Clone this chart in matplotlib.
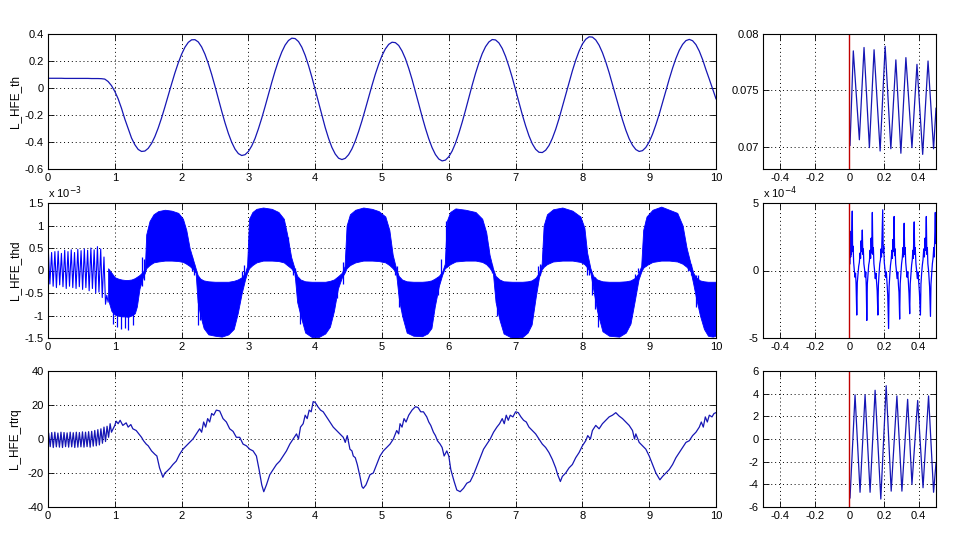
import matplotlib
matplotlib.use('Agg')
import matplotlib.pyplot as plt
import numpy as np
from matplotlib.ticker import FuncFormatter

plt.rcParams['font.family'] = ['Liberation Sans', 'DejaVu Sans']
plt.rcParams['axes.unicode_minus'] = False

# ---------------- data ----------------
labels = ["L_HFE_th", "L_HFE_thd", "L_HFE_rtrq"]

# L_HFE_th, sampled every 0.05
th_t = np.round(np.arange(0, 10.001, 0.05), 2)
th_v = [0.072, 0.072, 0.072, 0.072, 0.072, 0.071, 0.071, 0.071, 0.071, 0.071, 0.071,
        0.071, 0.071, 0.070, 0.070, 0.070, 0.069,
        0.066, 0.048, 0.018, -0.025, -0.08, -0.15, -0.23, -0.30, -0.37, -0.42, -0.455, -0.47,
        -0.467, -0.447, -0.411, -0.360, -0.296, -0.222, -0.140, -0.055, 0.030, 0.112, 0.186,
        0.250, 0.302, 0.338, 0.357,
        0.358, 0.341, 0.304, 0.250, 0.181, 0.101, 0.013, -0.079, -0.171, -0.258, -0.336,
        -0.402, -0.453, -0.486, -0.500,
        -0.494, -0.470, -0.429, -0.373, -0.302, -0.223, -0.137, -0.047, 0.042, 0.126, 0.202,
        0.267, 0.318, 0.352, 0.369,
        0.366, 0.344, 0.302, 0.242, 0.167, 0.081, -0.013, -0.109, -0.204, -0.293, -0.373,
        -0.440, -0.489, -0.520, -0.530,
        -0.521, -0.494, -0.451, -0.393, -0.322, -0.243, -0.157, -0.068, 0.019, 0.102, 0.176,
        0.240, 0.289, 0.323, 0.339,
        0.336, 0.315, 0.274, 0.218, 0.146, 0.064, -0.026, -0.118, -0.211, -0.298, -0.376,
        -0.442, -0.493, -0.526, -0.540,
        -0.534, -0.509, -0.467, -0.409, -0.336, -0.254, -0.165, -0.072, 0.021, 0.108, 0.186,
        0.254, 0.306, 0.341, 0.359,
        0.356, 0.334, 0.293, 0.234, 0.160, 0.077, -0.014, -0.106, -0.197, -0.280, -0.354,
        -0.413, -0.454, -0.476,
        -0.478, -0.461, -0.426, -0.373, -0.306, -0.227, -0.140, -0.050, 0.040, 0.127, 0.206,
        0.273, 0.326, 0.361, 0.379,
        0.377, 0.356, 0.317, 0.262, 0.193, 0.114, 0.026, -0.063, -0.152, -0.236, -0.312,
        -0.376, -0.424, -0.456, -0.470,
        -0.464, -0.440, -0.399, -0.342, -0.272, -0.194, -0.108, -0.020, 0.066, 0.147, 0.219,
        0.279, 0.323, 0.351, 0.360,
        0.350, 0.321, 0.273, 0.210, 0.135, 0.065, -0.008, -0.080]

# L_HFE_thd (x1e-3): start-up oscillation
thd_osc_t = [0.005, 0.028, 0.054, 0.077, 0.103, 0.126, 0.152, 0.175, 0.201, 0.224,
             0.250, 0.273, 0.299, 0.322, 0.348, 0.371, 0.397, 0.420, 0.446, 0.469,
             0.495, 0.518, 0.544, 0.567, 0.593, 0.616, 0.642, 0.665, 0.691, 0.714,
             0.740, 0.763, 0.789, 0.812, 0.838, 0.861, 0.880, 0.900]
thd_osc_v = [0.45, -0.30, 0.40, -0.35, 0.42, -0.38, 0.43, -0.32, 0.38, -0.36,
             0.45, -0.40, 0.42, -0.35, 0.46, -0.38, 0.40, -0.40, 0.47, -0.36,
             0.44, -0.42, 0.48, -0.38, 0.45, -0.45, 0.50, -0.40, 0.46, -0.50,
             0.53, -0.48, 0.48, -0.60, 0.30, -0.75, -0.55, -0.70]
# L_HFE_thd (x1e-3): envelope of the dense band (time, lower, upper)
thd_env_t = [0.90, 0.95, 1.00, 1.05, 1.10, 1.15, 1.20, 1.25, 1.30, 1.33, 1.37, 1.42, 1.45,
             1.47, 1.52, 1.58, 1.65, 1.75, 1.85, 1.95, 2.02, 2.07, 2.12, 2.17, 2.21,
             2.24, 2.28, 2.33, 2.40, 2.50, 2.60, 2.70, 2.78, 2.84, 2.90, 2.95, 2.98,
             3.01, 3.06, 3.12, 3.22, 3.35, 3.45, 3.53, 3.58, 3.64, 3.69,
             3.73, 3.78, 3.85, 3.95, 4.05, 4.15, 4.22, 4.28, 4.34, 4.40, 4.44,
             4.47, 4.52, 4.60, 4.72, 4.85, 4.95, 5.05, 5.11, 5.16, 5.21,
             5.25, 5.30, 5.37, 5.47, 5.60, 5.68, 5.74, 5.79, 5.85, 5.90, 5.94,
             5.97, 6.02, 6.10, 6.25, 6.40, 6.50, 6.56, 6.61, 6.66,
             6.70, 6.76, 6.82, 6.95, 7.10, 7.18, 7.24, 7.30, 7.35, 7.39,
             7.42, 7.47, 7.56, 7.70, 7.85, 7.97, 8.03, 8.07, 8.12,
             8.16, 8.22, 8.30, 8.40, 8.55, 8.65, 8.72, 8.78, 8.84, 8.88,
             8.91, 8.96, 9.05, 9.18, 9.30, 9.42, 9.50, 9.56, 9.62,
             9.66, 9.70, 9.76, 9.82, 9.88, 9.95, 10.0]
thd_env_lo = [-0.65, -0.90, -0.98, -1.00, -1.02, -1.02, -1.03, -1.00, -0.95, -0.80, -0.40, -0.15, -0.05,
              0.05, 0.12, 0.18, 0.20, 0.22, 0.22, 0.21, 0.19, 0.15, 0.10, 0.03, -0.05,
              -0.70, -1.00, -1.28, -1.42, -1.45, -1.47, -1.42, -1.30, -0.95, -0.50, -0.20, -0.05,
              0.05, 0.12, 0.18, 0.22, 0.22, 0.21, 0.18, 0.12, 0.05, -0.05,
              -0.70, -1.00, -1.38, -1.48, -1.48, -1.40, -1.25, -0.90, -0.40, -0.15, -0.05,
              0.05, 0.12, 0.18, 0.22, 0.22, 0.21, 0.18, 0.12, 0.05, -0.05,
              -0.60, -1.00, -1.38, -1.45, -1.46, -1.40, -1.28, -0.80, -0.35, -0.10, 0.05,
              0.08, 0.14, 0.20, 0.22, 0.22, 0.19, 0.14, 0.06, -0.05,
              -0.70, -1.10, -1.40, -1.50, -1.48, -1.38, -1.20, -0.60, -0.15, 0.02,
              0.08, 0.14, 0.20, 0.22, 0.22, 0.19, 0.14, 0.07, -0.05,
              -0.40, -0.90, -1.35, -1.45, -1.47, -1.38, -1.18, -0.70, -0.20, -0.03,
              0.06, 0.12, 0.19, 0.22, 0.22, 0.20, 0.15, 0.08, -0.02,
              -0.30, -0.60, -1.00, -1.30, -1.45, -1.47, -1.45]
thd_env_hi = [0.05, -0.05, -0.15, -0.18, -0.20, -0.21, -0.21, -0.20, -0.17, -0.14, -0.10, -0.03, 0.05,
              0.80, 1.10, 1.25, 1.32, 1.35, 1.33, 1.28, 1.15, 0.90, 0.50, 0.25, 0.05,
              -0.10, -0.18, -0.22, -0.24, -0.25, -0.25, -0.25, -0.23, -0.20, -0.15, -0.05, 0.10,
              1.15, 1.30, 1.37, 1.40, 1.37, 1.30, 1.15, 0.80, 0.30, 0.05,
              -0.12, -0.20, -0.24, -0.25, -0.25, -0.25, -0.23, -0.20, -0.13, -0.05, 0.10,
              1.00, 1.25, 1.35, 1.40, 1.37, 1.32, 1.20, 0.90, 0.35, 0.05,
              -0.12, -0.20, -0.24, -0.25, -0.25, -0.24, -0.22, -0.18, -0.12, -0.03, 0.15,
              1.10, 1.30, 1.38, 1.35, 1.30, 1.15, 0.85, 0.35, 0.05,
              -0.12, -0.20, -0.24, -0.25, -0.25, -0.24, -0.22, -0.16, -0.05, 0.15,
              1.00, 1.25, 1.36, 1.40, 1.33, 1.20, 0.95, 0.40, 0.05,
              -0.12, -0.20, -0.24, -0.25, -0.25, -0.24, -0.22, -0.17, -0.06, 0.10,
              0.90, 1.20, 1.35, 1.42, 1.35, 1.28, 1.00, 0.50, 0.15,
              -0.05, -0.15, -0.22, -0.24, -0.25, -0.25, -0.25]
# L_HFE_thd (x1e-3): isolated spikes poking out of the band (time, low, high)
thd_spk_t = [0.97, 1.03, 1.10, 1.15, 1.20, 1.27, 1.40, 1.43, 2.15, 2.19, 2.24, 2.27,
             2.90, 2.93, 3.59, 3.67, 3.70, 3.77, 3.80, 4.33, 4.42, 5.05, 5.19, 5.22,
             5.25, 5.28, 5.40, 5.84, 5.89, 5.96, 6.59, 6.64, 6.72, 6.76, 6.85, 7.28,
             7.34, 7.37, 8.01, 8.07, 8.10, 8.15, 8.19, 8.23, 8.78, 8.83, 8.95, 9.58,
             9.62, 9.70, 9.73]
thd_spk_lo = [-1.18, -1.25, -1.29, -1.27, -1.33, -1.22, -0.35, -0.20, 0.00, -0.10, -1.20, -1.10,
              -0.30, -0.10, 0.30, -0.10, -0.15, -1.18, -1.10, -0.60, -0.30, 0.30, -0.10, -0.10,
              -0.80, -0.85, -1.30, -0.55, -0.10, 0.15, 0.20, -0.05, -1.00, -1.00, -1.25, -0.60,
              -0.15, -0.10, 0.20, -0.10, -0.10, -0.55, -0.85, -1.25, -0.20, -0.05, 0.10, 0.00,
              -0.10, -0.80, -0.60]
thd_spk_hi = [-0.80, -0.90, -0.90, -0.90, -0.90, -0.90, 0.30, 0.25, 0.30, 0.15, -0.20, -0.20,
              0.00, 0.12, 0.75, 0.10, 0.05, -0.30, -0.30, -0.20, 0.20, 0.85, 0.10, 0.10,
              -0.20, -0.20, -0.30, -0.20, 0.25, 1.10, 0.55, 0.12, -0.20, -0.20, -0.30, -0.20,
              0.10, 0.15, 0.85, 0.10, 0.10, -0.10, -0.15, -0.20, -0.07, 0.05, 1.12, 0.30,
              0.15, -0.10, -0.10]

# L_HFE_rtrq
rtrq_t = [0.000, 0.010, 0.033, 0.056, 0.079, 0.102, 0.125, 0.148, 0.171, 0.194, 0.217,
          0.240, 0.263, 0.286, 0.309, 0.332, 0.355, 0.378, 0.401, 0.424, 0.447,
          0.470, 0.493, 0.516, 0.539, 0.562, 0.585, 0.608, 0.631, 0.654, 0.677,
          0.700, 0.723, 0.746, 0.769, 0.792, 0.815, 0.838, 0.861, 0.884, 0.907, 0.930, 0.950,
          1.00, 1.02, 1.05, 1.08, 1.12, 1.17, 1.20, 1.24, 1.27, 1.32, 1.37, 1.40, 1.43, 1.47,
          1.50, 1.55, 1.60, 1.63, 1.67, 1.72, 1.75, 1.78, 1.83, 1.87, 1.92, 1.97, 2.02, 2.07,
          2.12, 2.17, 2.22, 2.27, 2.30, 2.33, 2.36, 2.39, 2.42, 2.45, 2.48, 2.52, 2.57, 2.62,
          2.67, 2.72, 2.77, 2.82, 2.87, 2.92, 2.97, 3.02, 3.07, 3.12, 3.16, 3.20, 3.23, 3.27,
          3.32, 3.37, 3.42, 3.47, 3.52, 3.57, 3.62, 3.67, 3.72, 3.75, 3.78, 3.82, 3.85, 3.88,
          3.91, 3.94, 3.97, 4.00, 4.04, 4.08, 4.12, 4.17, 4.22, 4.27, 4.32, 4.37, 4.42, 4.45,
          4.48, 4.52, 4.55, 4.57, 4.60, 4.63, 4.67, 4.70, 4.72, 4.76, 4.82, 4.87, 4.92, 4.97,
          5.02, 5.07, 5.12, 5.17, 5.22, 5.25, 5.27, 5.30, 5.33, 5.36, 5.40, 5.45, 5.50, 5.54,
          5.58, 5.62, 5.67, 5.70, 5.73, 5.77, 5.80, 5.83, 5.87, 5.90, 5.93, 5.97, 6.00, 6.03,
          6.08, 6.12, 6.17, 6.22, 6.27, 6.32, 6.37, 6.42, 6.47, 6.52, 6.57, 6.62, 6.67, 6.72,
          6.76, 6.80, 6.83, 6.86, 6.89, 6.92, 6.96, 7.00, 7.04, 7.08, 7.12, 7.16, 7.20, 7.25,
          7.30, 7.35, 7.40, 7.45, 7.50, 7.55, 7.60, 7.63, 7.67, 7.70, 7.75, 7.80, 7.85, 7.90,
          7.95, 8.00, 8.05, 8.08, 8.12, 8.15, 8.20, 8.25, 8.30, 8.35, 8.40, 8.45, 8.50, 8.55,
          8.60, 8.65, 8.70, 8.75, 8.78, 8.80, 8.85, 8.90, 8.95, 9.00, 9.05, 9.10, 9.16, 9.20,
          9.25, 9.30, 9.35, 9.40, 9.45, 9.50, 9.55, 9.60, 9.65, 9.70, 9.75, 9.78, 9.81, 9.84,
          9.87, 9.90, 9.94, 9.97, 10.00]
rtrq_v = [0.0, 3.5, -4.5, 3.8, -5.0, 4.0, -4.6, 3.5, -4.8, 4.0, -5.0,
          3.8, -4.5, 3.6, -4.8, 4.0, -4.6, 3.7, -5.0, 4.0, -4.8,
          3.8, -4.6, 4.2, -4.8, 4.0, -4.5, 4.3, -4.8, 4.5, -4.2,
          5.0, -4.0, 5.5, -3.5, 6.0, -2.5, 7.0, -1.5, 7.5, 1.0, 9.0, 4.0,
          8, 10.5, 9, 11, 8, 9.5, 7, 8.5, 6, 5, 2.5, 1, -1, -3,
          -4, -7, -9, -10, -17, -22.5, -20, -19, -17, -15, -13, -9, -6, -4,
          -2, 0, 3, 6, 4, 10, 7, 12, 10, 15, 14, 17, 16.5, 12,
          10, 6, 4.5, 1, 1, -3, -4, -6, -7, -10, -18, -27, -31, -27,
          -21, -18, -15, -13, -10, -7, -3, 0, 3, 0, 7, 9, 14, 12,
          17, 16, 22, 21.5, 19, 17, 16, 13, 10, 7, 5, 3, 1, -2,
          2, -6, -7, -10, -11, -15, -22, -28, -29, -27, -21, -20, -15, -10,
          -7, -5, -3, 0, 5, 3, 9, 7, 12, 10, 14, 17, 19, 18.5,
          16, 16, 13, 10, 8, 4, 2, -1, -3, -5, -10, -7, -10, -18,
          -25, -30, -31, -29, -26, -25, -21, -16, -11, -6, -3, 0, 4, 7,
          9, 12, 9, 14, 11, 14, 13, 16, 15.5, 13, 11, 10, 7, 5,
          3, 0, -3, -5, -8, -12, -17, -21, -25, -22, -20, -17, -15, -11,
          -8, -4, -1, 2, 0, 5, 8, 6, 9, 11, 13, 14, 15.5, 13.5,
          12, 10, 8, 5, 0, 3, -2, -4, -6, -10, -15, -20, -24, -22,
          -20, -18, -15, -11, -8, -5, -2, -1, 2, 4, 7, 10, 7, 13,
          10, 14, 13, 15, 15.5]

# zoomed views (right column)
red_x = 0.0
thz_t = [0.003, 0.022, 0.057, 0.084, 0.115, 0.142, 0.177, 0.206, 0.239, 0.268,
         0.297, 0.326, 0.361, 0.390, 0.423, 0.454, 0.486, 0.500]
thz_v = [0.0701, 0.0785, 0.0706, 0.0788, 0.0699, 0.0786, 0.0696, 0.0789, 0.0698, 0.0777,
         0.0694, 0.0779, 0.0699, 0.0773, 0.0693, 0.0776, 0.0698, 0.0734]

thdz = [(0.003, 0.5), (0.005, 2.9), (0.007, 1.0), (0.009, 2.7), (0.011, 1.2), (0.013, 2.5),
        (0.016, 4.4), (0.018, 1.4), (0.021, 1.8), (0.024, 0.6), (0.028, 0.0), (0.032, -0.5),
        (0.035, -0.2), (0.038, -1.0), (0.042, -3.3), (0.045, -0.9), (0.049, -0.3), (0.053, 0.3),
        (0.057, 0.6), (0.061, 1.3), (0.064, 0.9), (0.067, 2.2), (0.070, 1.4), (0.074, 3.0),
        (0.077, 1.2), (0.080, 1.6), (0.083, 0.5), (0.087, 0.1), (0.091, -0.5), (0.094, -0.1),
        (0.097, -1.2), (0.100, -3.7), (0.103, -1.0), (0.107, -0.3), (0.111, 0.4), (0.115, 0.7),
        (0.119, 1.5), (0.122, 0.9), (0.125, 2.4), (0.128, 1.3), (0.132, 4.3), (0.135, 1.2),
        (0.138, 1.7), (0.141, 0.5), (0.145, 0.0), (0.149, -0.6), (0.153, -0.2), (0.157, -0.9),
        (0.160, -1.5), (0.164, -3.3), (0.167, -1.1), (0.171, -0.2), (0.175, 0.5), (0.179, 0.8),
        (0.182, 1.6), (0.185, 1.0), (0.188, 2.6), (0.192, 4.5), (0.195, 1.3), (0.198, 1.8),
        (0.201, 0.6), (0.205, 0.1), (0.209, -0.5), (0.213, -0.1), (0.217, -1.0), (0.221, -1.8),
        (0.226, -4.3), (0.229, -1.2), (0.233, -0.3), (0.237, 0.4), (0.241, 0.8), (0.245, 1.5),
        (0.248, 0.9), (0.251, 2.3), (0.254, 1.4), (0.258, 4.0), (0.261, 1.1), (0.264, 1.6),
        (0.267, 0.5), (0.271, 0.0), (0.275, -0.6), (0.279, -0.1), (0.283, -1.1), (0.286, -1.6),
        (0.290, -3.6), (0.293, -1.0), (0.297, -0.2), (0.301, 0.5), (0.305, 0.9), (0.309, 1.7),
        (0.312, 1.0), (0.316, 3.5), (0.319, 1.2), (0.322, 1.7), (0.325, 0.6), (0.329, 0.0),
        (0.333, -0.5), (0.337, -0.1), (0.341, -1.0), (0.344, -1.7), (0.348, -3.2), (0.351, -1.0),
        (0.355, -0.3), (0.359, 0.4), (0.363, 0.8), (0.366, 1.5), (0.369, 0.9), (0.371, 2.2),
        (0.374, 3.6), (0.377, 1.2), (0.380, 1.7), (0.384, 0.5), (0.388, 0.0), (0.392, -0.6),
        (0.396, -0.1), (0.400, -0.9), (0.404, -1.6), (0.410, -3.3), (0.413, -1.0), (0.417, -0.2),
        (0.421, 0.4), (0.425, 0.8), (0.429, 1.6), (0.433, 1.0), (0.437, 2.4), (0.440, 1.5),
        (0.444, 4.0), (0.447, 1.2), (0.450, 1.7), (0.453, 0.5), (0.457, 0.0), (0.460, -0.6),
        (0.463, -1.2), (0.468, -3.4), (0.471, -1.0), (0.475, -0.3), (0.479, 0.5), (0.483, 0.9),
        (0.487, 1.7), (0.490, 1.0), (0.493, 2.6), (0.496, 4.3), (0.499, 2.0)]
thdz_t = [p[0] for p in thdz]
thdz_v = [p[1] for p in thdz]

rtrqz_t = [0.003, 0.032, 0.061, 0.090, 0.119, 0.148, 0.181, 0.212, 0.241, 0.274,
           0.303, 0.336, 0.361, 0.394, 0.425, 0.457, 0.486, 0.500]
rtrqz_v = [-5.2, 3.9, -4.7, 3.9, -4.7, 4.3, -5.3, 4.7, -4.6, 3.8,
           -4.6, 3.5, -4.0, 3.4, -4.3, 3.8, -4.7, -2.1]

left_xticks = list(range(0, 11))
right_xticks = [-0.4, -0.2, 0, 0.2, 0.4]

# ---------------- figure ----------------
W, H = 954, 533
fig = plt.figure(figsize=(W / 100, H / 100), dpi=100)

def pos(x0, y0, x1, y1):
    return [x0 / W, 1 - y1 / H, (x1 - x0) / W, (y1 - y0) / H]

fmt = FuncFormatter(lambda v, p: '0' if abs(v) < 1e-12 else f'{v:g}')
LINE = '#1616b4'
BLUE = '#0000ff'

def style(ax, xlim, xticks, ylim, yticks):
    ax.set_xlim(*xlim)
    ax.set_ylim(*ylim)
    ax.set_xticks(xticks)
    ax.set_yticks(yticks)
    ax.xaxis.set_major_formatter(fmt)
    ax.yaxis.set_major_formatter(fmt)
    ax.set_axisbelow(True)
    ax.grid(True, color='k', linestyle=(0, (1, 3)), linewidth=0.7)
    ax.tick_params(direction='in', top=True, right=True, length=4, width=0.6,
                   labelsize=8, pad=3)
    for s in ax.spines.values():
        s.set_linewidth(0.8)

rows = [(34, 169), (203, 338), (371, 507)]
axL = [fig.add_axes(pos(48, r0, 716, r1)) for r0, r1 in rows]
axR = [fig.add_axes(pos(763, r0, 936, r1)) for r0, r1 in rows]

# left column
axL[0].plot(th_t, th_v, color=LINE, lw=0.9)
style(axL[0], (0, 10), left_xticks, (-0.6, 0.4), [-0.6, -0.4, -0.2, 0, 0.2, 0.4])

axL[1].plot(thd_osc_t, thd_osc_v, color=BLUE, lw=0.8)
axL[1].fill_between(thd_env_t, thd_env_lo, thd_env_hi, color=BLUE, lw=0.6)
axL[1].vlines(thd_spk_t, thd_spk_lo, thd_spk_hi, color=BLUE, lw=0.9)
style(axL[1], (0, 10), left_xticks, (-1.5, 1.5), [-1.5, -1, -0.5, 0, 0.5, 1, 1.5])
axL[1].text(0, 1.015, r'x 10$^{-3}$', transform=axL[1].transAxes, fontsize=8,
            ha='left', va='bottom')

axL[2].plot(rtrq_t, rtrq_v, color=LINE, lw=0.9)
style(axL[2], (0, 10), left_xticks, (-40, 40), [-40, -20, 0, 20, 40])

for ax, lab in zip(axL, labels):
    ax.set_ylabel(lab, fontsize=8.5)
    ax.yaxis.label.set_verticalalignment('center')
    ax.yaxis.set_label_coords(-0.05, 0.5)

# right column
axR[0].plot(thz_t, thz_v, color=LINE, lw=0.9)
axR[0].axvline(red_x, color='#c00000', lw=1.0)
style(axR[0], (-0.5, 0.5), right_xticks, (0.068, 0.08), [0.07, 0.075, 0.08])

axR[1].plot(thdz_t, thdz_v, color=BLUE, lw=0.9)
axR[1].axvline(red_x, color='#c00000', lw=1.0)
style(axR[1], (-0.5, 0.5), right_xticks, (-5, 5), [-5, 0, 5])
axR[1].text(0, 1.015, r'x 10$^{-4}$', transform=axR[1].transAxes, fontsize=8,
            ha='left', va='bottom')

axR[2].plot(rtrqz_t, rtrqz_v, color=LINE, lw=0.9)
axR[2].axvline(red_x, color='#c00000', lw=1.0)
style(axR[2], (-0.5, 0.5), right_xticks, (-6, 6), [-6, -4, -2, 0, 2, 4, 6])

fig.savefig('out.png', dpi=100, facecolor='white')
